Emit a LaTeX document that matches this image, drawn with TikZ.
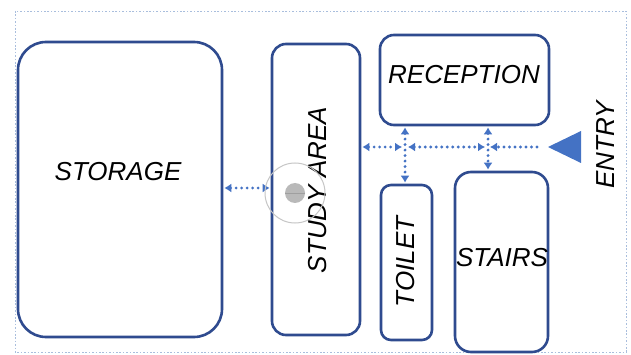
\documentclass[tikz,border=0pt]{standalone}
\usepackage{fontspec}
\setmainfont{Liberation Sans}
\usetikzlibrary{arrows.meta}
\definecolor{roomline}{HTML}{2F4B8F}
\definecolor{flow}{HTML}{4472C4}
\definecolor{framecol}{HTML}{A9BEDD}
\begin{document}
\begin{tikzpicture}[x=1pt,y=-1pt,
  >={Latex[length=7pt,width=9pt,line cap=butt]},
  room/.style={draw=roomline, line width=2.6pt, fill=white, rounded corners=#1, inner sep=0pt},
  room/.default=14pt,
  lbl/.style={font=\fontsize{26}{26}\selectfont\itshape, text=black, inner sep=0pt},
  flowline/.style={draw=flow, line width=3.2pt, dash pattern=on 0pt off 5.5pt, line cap=round},
  both/.style={flowline, <->, shorten >=1pt, shorten <=1pt},
]
\useasboundingbox (0,0) rectangle (631,355);
\fill[white] (0,0) rectangle (631,355);

% outer site boundary
\draw[framecol, line width=0.9pt, dash pattern=on 1.6pt off 1.8pt] (15,11) rectangle (626,352);

% rooms
\node[room=28pt, minimum width=204pt, minimum height=295pt] (storage) at (120,189.5) {};
\node[room=14pt, minimum width=88pt, minimum height=291pt] (study) at (316,189.5) {};
\node[room=14pt, minimum width=169pt, minimum height=90pt] (reception) at (464.5,80) {};
\node[room=10pt, minimum width=51pt, minimum height=155pt] (toilet) at (406.5,262.5) {};
\node[room=16pt, minimum width=93pt, minimum height=180pt] (stairs) at (501.5,262) {};

% room names
\node[lbl] (storagelbl) at (118,172) {STORAGE};
\node[lbl, rotate=90] (studylbl) at (318,190) {STUDY AREA};
\node[lbl] (receptionlbl) at (464,75) {RECEPTION};
\node[lbl, rotate=90] (toiletlbl) at (406,262) {TOILET};
\node[lbl] (stairslbl) at (502,258) {STAIRS};
\node[lbl, rotate=90] (entrylbl) at (606,145) {ENTRY};

% entry marker
\fill[flow] (548,147) -- (581,131) -- (581,163) -- cycle;
\coordinate (entrytip) at (537,147);

% corridor junctions
\coordinate (j1) at (405,147);
\coordinate (j2) at (488,147);

% circulation links
\draw[both] (storage.east |- 0,188) -- (study.west |- 0,188);
\draw[both] (study.east |- j1) -- ([xshift=-2pt]j1);
\draw[both] ([xshift=2pt]j1) -- ([xshift=-2pt]j2);
\draw[flowline, ->, shorten >=2pt] (entrytip) -- (j2);
\draw[both] (reception.south -| j1) -- (toilet.north -| j1);
\draw[both] (reception.south -| j2) -- (stairs.north -| j2);

% pointer highlight
\draw[gray!45, line width=1pt] (295,193) circle (30pt);
\fill[gray!55] (295,193) circle (10pt);
\draw[gray!75, line width=0.6pt] (285,193) -- (305,193);
\end{tikzpicture}
\end{document}
